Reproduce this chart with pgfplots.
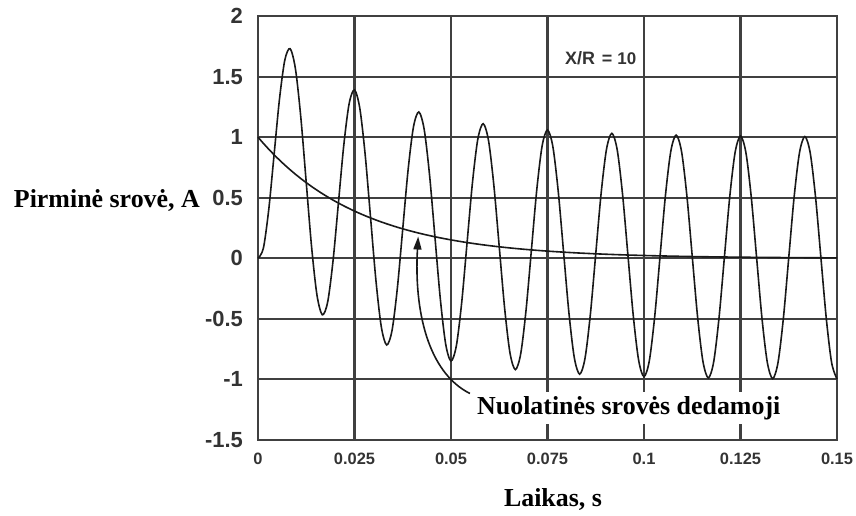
\documentclass[border=0pt]{standalone}
\usepackage{fontspec}
\setmainfont{Liberation Serif}
\newfontfamily\sansb{Liberation Sans}
\usepackage{pgfplots}
\usepackage{pgfplotstable}
\pgfplotsset{compat=1.18}
\usetikzlibrary{arrows.meta}
\definecolor{gridc}{HTML}{404040}
\definecolor{tickc}{HTML}{333333}

\pgfplotstableread{
t i d
0 0 1
0.001389 0.08296 0.94899
0.002778 0.40058 0.90058
0.004167 0.85464 0.85464
0.005556 1.31104 0.81104
0.006944 1.63570 0.76967
0.008333 1.73040 0.73040
0.009722 1.55918 0.69315
0.011111 1.15779 0.65779
0.0125 0.62423 0.62423
0.013889 0.09240 0.59240
0.015278 -0.30385 0.56218
0.016667 -0.46651 0.53349
0.018056 -0.35975 0.50628
0.019444 -0.01955 0.48045
0.020833 0.45594 0.45594
0.022222 0.93268 0.43268
0.023611 1.27664 0.41061
0.025 1.38966 0.38966
0.026389 1.23582 0.36979
0.027778 0.85092 0.35092
0.029167 0.33302 0.33302
0.030556 -0.18396 0.31604
0.031944 -0.56611 0.29992
0.033333 -0.71539 0.28461
0.034722 -0.59594 0.27009
0.036111 -0.24369 0.25631
0.0375 0.24324 0.24324
0.038889 0.73083 0.23083
0.040278 1.08509 0.21906
0.041667 1.20788 0.20788
0.043056 1.06331 0.19728
0.044444 0.68721 0.18721
0.045833 0.17766 0.17766
0.047222 -0.33140 0.16860
0.048611 -0.70603 0.16000
0.05 -0.84816 0.15184
0.051389 -0.72194 0.14409
0.052778 -0.36326 0.13674
0.054167 0.12977 0.12977
0.055556 0.62315 0.12315
0.056944 0.98290 0.11687
0.058333 1.11090 0.11090
0.059722 0.97128 0.10525
0.061111 0.59988 0.09988
0.0625 0.09478 0.09478
0.063889 -0.41005 0.08995
0.065278 -0.78067 0.08536
0.066667 -0.91900 0.08100
0.068056 -0.78916 0.07687
0.069444 -0.42705 0.07295
0.070833 0.06923 0.06923
0.072222 0.56569 0.06569
0.073611 0.92837 0.06234
0.075 1.05916 0.05916
0.076389 0.92218 0.05615
0.077778 0.55328 0.05328
0.079167 0.05056 0.05056
0.080556 -0.45202 0.04798
0.081944 -0.82049 0.04554
0.083333 -0.95679 0.04321
0.084722 -0.82502 0.04101
0.086111 -0.46109 0.03891
0.0875 0.03693 0.03693
0.088889 0.53504 0.03504
0.090278 0.89929 0.03326
0.091667 1.03156 0.03156
0.093056 0.89598 0.02995
0.094444 0.52842 0.02842
0.095833 0.02697 0.02697
0.097222 -0.47440 0.02560
0.098611 -0.84174 0.02429
0.1 -0.97695 0.02305
0.101389 -0.84416 0.02187
0.102778 -0.47924 0.02076
0.104167 0.01970 0.01970
0.105556 0.51869 0.01869
0.106944 0.88377 0.01774
0.108333 1.01684 0.01684
0.109722 0.88201 0.01598
0.111111 0.51516 0.01516
0.1125 0.01439 0.01439
0.113889 -0.48634 0.01366
0.115278 -0.85307 0.01296
0.116667 -0.98770 0.01230
0.118056 -0.85436 0.01167
0.119444 -0.48892 0.01108
0.120833 0.01051 0.01051
0.122222 0.50998 0.00998
0.123611 0.87550 0.00947
0.125 1.00898 0.00898
0.126389 0.87456 0.00853
0.127778 0.50809 0.00809
0.129167 0.00768 0.00768
0.130556 -0.49271 0.00729
0.131944 -0.85912 0.00691
0.133333 -0.99344 0.00656
0.134722 -0.85980 0.00623
0.136111 -0.49409 0.00591
0.1375 0.00561 0.00561
0.138889 0.50532 0.00532
0.140278 0.87108 0.00505
0.141667 1.00479 0.00479
0.143056 0.87058 0.00455
0.144444 0.50432 0.00432
0.145833 0.00410 0.00410
0.147222 -0.49611 0.00389
0.148611 -0.86234 0.00369
0.15 -0.99650 0.00350
}\data

\begin{document}
\begin{tikzpicture}
\begin{axis}[
  scale only axis, width=579bp, height=424bp,
  xmin=0, xmax=0.15, ymin=-1.5, ymax=2,
  xtick={0,0.025,0.05,0.075,0.1,0.125,0.15},
  xticklabels={0,0.025,0.05,0.075,0.1,0.125,0.15},
  ytick={-1.5,-1,-0.5,0,0.5,1,1.5,2},
  yticklabels={-1.5,-1,-0.5,0,0.5,1,1.5,2},
  grid=major, grid style={gridc, line width=2.1bp},
  axis line style={gridc, line width=2.6bp},
  tick style={draw=none},
  xticklabel style={font=\sansb\bfseries\fontsize{16.5}{16.5}\selectfont, text=tickc, anchor=north, inner sep=0pt, yshift=-13bp},
  yticklabel style={font=\sansb\bfseries\fontsize{22}{22}\selectfont, text=tickc, anchor=east, inner sep=0pt, xshift=-15bp},
  clip=false,
]
\addplot[black!90, line width=1.6bp, smooth] table[x=t, y=i] {\data};
\addplot[black!90, line width=1.6bp, smooth] table[x=t, y=d] {\data};
\node[anchor=base west, inner sep=0pt, text=tickc, font=\sansb\bfseries\fontsize{18}{18}\selectfont] at (axis cs:0.0795,1.603) {X/R\hspace{7bp}=\hspace{5bp}{\fontsize{17}{17}\selectfont 10}};
\node[anchor=base west, fill=white, inner xsep=3bp, inner ysep=4bp, font=\bfseries\fontsize{26}{26}\selectfont] at (axis cs:0.05596,-1.289) {Nuolatinės srovės dedamoji};
\draw[black!90, line width=1.6bp, -{Triangle[length=13bp,width=8bp]}] (axis cs:0.0549,-1.116) .. controls (axis cs:0.0440,-0.942) and (axis cs:0.0404,-0.43) .. (axis cs:0.0415,0.18);
\end{axis}
\node[anchor=base east, inner sep=0pt, font=\bfseries\fontsize{26}{26}\selectfont] at (-58bp,232bp) {Pirminė srovė, A};
\node[anchor=base, inner sep=0pt, font=\bfseries\fontsize{26}{26}\selectfont] at (295bp,-66bp) {Laikas, s};
\pgfresetboundingbox
\path[use as bounding box] (-258bp,-76bp) rectangle (598bp,440bp);
\end{tikzpicture}
\end{document}
